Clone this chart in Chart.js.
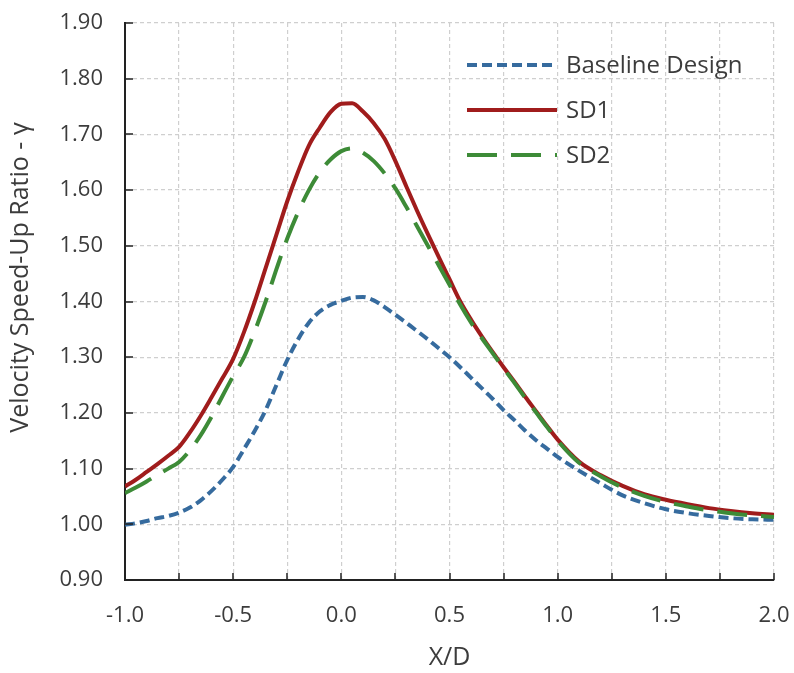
<!DOCTYPE html>
<html>
<head>
<meta charset="utf-8">
<script src="https://cdn.jsdelivr.net/npm/chart.js@4.4.0/dist/chart.umd.min.js"></script>
<style>
    html, body { margin: 0; padding: 0; background: #fff; }
    #wrap { width: 794px; height: 673px; }
</style>
</head>
<body>
<div id="wrap"><canvas id="chart" width="794" height="673"></canvas></div>
<script>
const xd = [-1.0,-0.95,-0.9,-0.85,-0.8,-0.75,-0.7,-0.65,-0.6,-0.55,-0.5,-0.45,-0.4,-0.35,-0.3,-0.25,-0.2,-0.15,-0.1,-0.05,
    0.0,0.05,0.1,0.15,0.2,0.25,0.3,0.35,0.4,0.45,0.5,0.55,0.6,0.65,0.7,0.75,0.8,0.85,0.9,0.95,
    1.0,1.1,1.2,1.3,1.4,1.5,1.6,1.7,1.8,1.9,2.0]

const baseline = [0.999,1.002,1.006,1.011,1.015,1.021,1.030,1.043,1.060,1.080,1.103,1.135,1.168,1.205,1.250,1.295,1.332,1.362,1.382,1.394,
    1.401,1.407,1.408,1.402,1.390,1.376,1.362,1.347,1.332,1.316,1.300,1.282,1.263,1.244,1.225,1.205,1.187,1.168,1.151,1.136,
    1.121,1.096,1.073,1.052,1.038,1.027,1.020,1.015,1.011,1.009,1.008]

const sd1 = [1.068,1.080,1.094,1.108,1.123,1.139,1.165,1.195,1.228,1.262,1.297,1.345,1.400,1.460,1.520,1.580,1.633,1.680,1.712,1.740,
    1.755,1.756,1.741,1.720,1.692,1.652,1.607,1.563,1.521,1.480,1.440,1.400,1.367,1.337,1.309,1.282,1.256,1.229,1.203,1.177,
    1.152,1.112,1.088,1.069,1.054,1.044,1.036,1.029,1.024,1.020,1.017]

const sd2 = [1.056,1.066,1.077,1.089,1.100,1.112,1.133,1.160,1.193,1.230,1.266,1.300,1.347,1.400,1.458,1.513,1.560,1.600,1.632,1.655,
    1.670,1.675,1.667,1.652,1.630,1.603,1.570,1.535,1.500,1.465,1.430,1.394,1.362,1.334,1.307,1.280,1.254,1.227,1.201,1.175,
    1.150,1.110,1.086,1.066,1.051,1.040,1.032,1.025,1.020,1.016,1.013]

const seriesNames = ['Baseline Design', 'SD1', 'SD2']
const yTitle = 'Velocity Speed-Up Ratio - γ'
const xTitle = 'X/D'

const textColor = '#3c3c3c'
const fontFamily = '"Open Sans", sans-serif'

function pts(ys) {
    return xd.map((x, i) => ({x: x, y: ys[i]}))
}

// tick marks drawn on the inside of the axes
const innerTicks = {
    id: 'innerTicks',
    afterDatasetsDraw(chart) {
        const ctx = chart.ctx
        const xs = chart.scales.x
        const ys = chart.scales.y
        const area = chart.chartArea
        ctx.save()
        ctx.strokeStyle = '#222'
        ctx.lineWidth = 1.5
        ctx.beginPath()
        xs.ticks.forEach(t => {
            const px = Math.round(xs.getPixelForValue(t.value))
            ctx.moveTo(px, area.bottom)
            ctx.lineTo(px, area.bottom - 7)
        })
        ys.ticks.forEach(t => {
            const py = Math.round(ys.getPixelForValue(t.value))
            ctx.moveTo(area.left, py)
            ctx.lineTo(area.left + 8, py)
        })
        ctx.stroke()
        ctx.restore()
    }
}

// y title sits a bit above the middle of the axis in the original
const sideTitle = {
    id: 'sideTitle',
    afterDraw(chart) {
        const ctx = chart.ctx
        const area = chart.chartArea
        ctx.save()
        ctx.translate(21, (area.top + area.bottom) / 2 - 24)
        ctx.rotate(-Math.PI / 2)
        ctx.fillStyle = textColor
        ctx.font = '25px ' + fontFamily
        ctx.textAlign = 'center'
        ctx.textBaseline = 'middle'
        ctx.fillText(yTitle, 0, 0)
        ctx.restore()
    }
}

// legend box in the upper right of the plot
const insideLegend = {
    id: 'insideLegend',
    afterDraw(chart) {
        const ctx = chart.ctx
        const area = chart.chartArea
        const x0 = area.left + 342
        const y0 = area.top + 42
        ctx.save()
        chart.data.datasets.slice().sort((a, b) => a.legendIndex - b.legendIndex).forEach((ds, i) => {
            const y = y0 + i * 45
            ctx.strokeStyle = ds.borderColor
            ctx.lineWidth = ds.borderWidth
            ctx.setLineDash(ds.borderDash || [])
            ctx.beginPath()
            ctx.moveTo(x0, y)
            ctx.lineTo(x0 + 90, y)
            ctx.stroke()
            ctx.setLineDash([])
            ctx.fillStyle = textColor
            ctx.font = '24px ' + fontFamily
            ctx.textBaseline = 'middle'
            ctx.fillText(ds.label, x0 + 99, y + 1)
        })
        ctx.restore()
    }
}

const chart = new Chart(document.getElementById('chart'), {
    type: 'line',
    data: {
        datasets: [
            {
                label: seriesNames[2],
                data: pts(sd2),
                borderColor: '#3d8b37',
                borderWidth: 4,
                borderDash: [30, 14],
                legendIndex: 2,
                order: 0
            },
            {
                label: seriesNames[1],
                data: pts(sd1),
                borderColor: '#a01c1c',
                borderWidth: 4,
                legendIndex: 1,
                order: 1
            },
            {
                label: seriesNames[0],
                data: pts(baseline),
                borderColor: '#366b9e',
                borderWidth: 4,
                borderDash: [10, 5],
                legendIndex: 0,
                order: 2
            }
        ]
    },
    plugins: [innerTicks, insideLegend, sideTitle],
    options: {
        responsive: false,
        animation: false,
        layout: {
            padding: {left: 0, right: 20, top: 23, bottom: 0}
        },
        elements: {
            point: {radius: 0},
            line: {cubicInterpolationMode: 'monotone', fill: false}
        },
        plugins: {
            legend: {display: false},
            tooltip: {enabled: false}
        },
        scales: {
            x: {
                type: 'linear',
                min: -1.0,
                max: 2.0,
                afterFit: (s) => { s.height = 93 },
                ticks: {
                    stepSize: 0.25,
                    padding: 0,
                    color: textColor,
                    font: {family: fontFamily, size: 22},
                    maxRotation: 0,
                    autoSkip: false,
                    callback: (v) => {
                        const half = v * 2
                        return Math.abs(half - Math.round(half)) < 1e-6 ? v.toFixed(1) : ''
                    }
                },
                grid: {
                    color: '#cfcfcf',
                    lineWidth: 1.2,
                    drawTicks: true,
                    tickLength: 23,
                    tickColor: 'rgba(0,0,0,0)'
                },
                border: {display: true, color: '#222', width: 2, dash: [4, 3]},
                title: {
                    display: true,
                    text: xTitle,
                    color: textColor,
                    font: {family: fontFamily, size: 25},
                    padding: {top: 0, bottom: 0}
                }
            },
            y: {
                min: 0.9,
                max: 1.9,
                afterFit: (s) => { s.width = 125 },
                ticks: {
                    stepSize: 0.1,
                    padding: 0,
                    color: textColor,
                    font: {family: fontFamily, size: 22},
                    callback: (v) => v.toFixed(2)
                },
                grid: {
                    color: '#cfcfcf',
                    lineWidth: 1.2,
                    drawTicks: true,
                    tickLength: 22,
                    tickColor: 'rgba(0,0,0,0)'
                },
                border: {display: true, color: '#222', width: 2, dash: [4, 3]}
            }
        }
    }
})
</script>
</body>
</html>
